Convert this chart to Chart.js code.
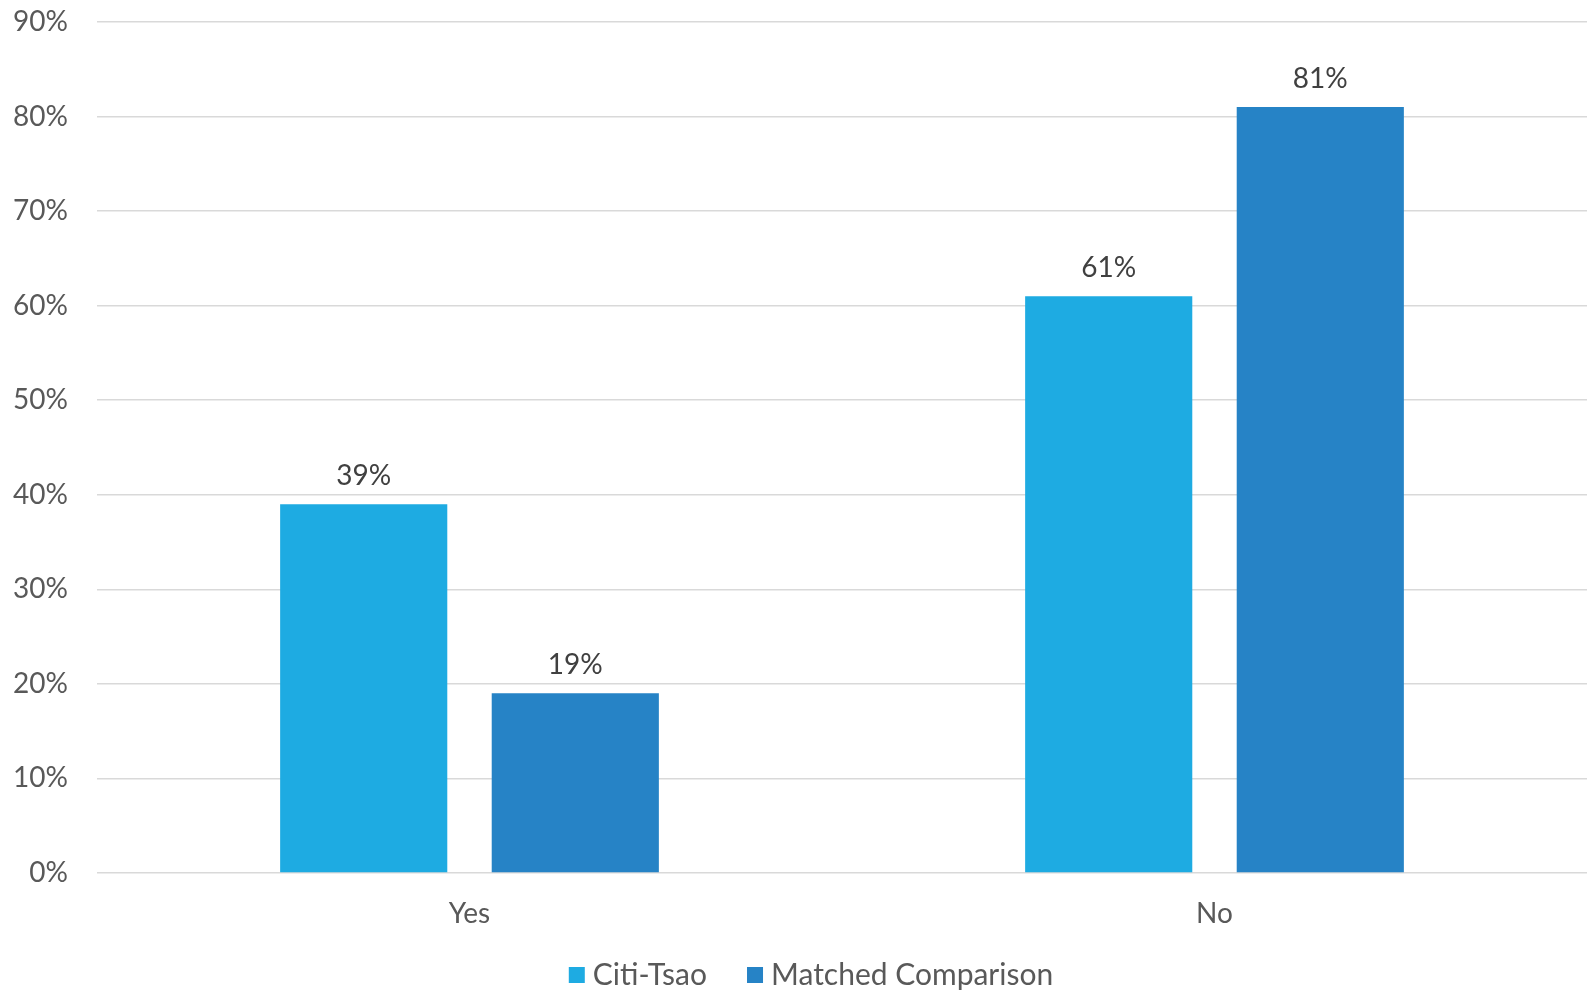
<!DOCTYPE html>
<html>
<head>
<meta charset="utf-8">
<script src="https://cdn.jsdelivr.net/npm/chart.js@4/dist/chart.umd.min.js"></script>
<style>
  html, body { margin: 0; padding: 0; background: #fff; }
  #wrap { width: 1593px; height: 991px; }
</style>
</head>
<body>
<div id="wrap"><canvas id="barChart"></canvas></div>
<script>
const categories = ['Yes', 'No'];
const citiTsao = [39, 61];
const matchedComparison = [19, 81];
const seriesNames = ['Citi-Tsao', 'Matched Comparison'];
const seriesColors = ['#1eabe2', '#2683c6'];

const fontFamily = "Lato, 'Open Sans', sans-serif";

// draws the value above each bar
const barLabels = {
    id: 'barLabels',
    afterDatasetsDraw(chart) {
        const ctx = chart.ctx;
        ctx.save();
        ctx.font = '28px ' + fontFamily;
        ctx.fillStyle = '#404040';
        ctx.textAlign = 'center';
        ctx.textBaseline = 'bottom';
        chart.data.datasets.forEach((ds, i) => {
            chart.getDatasetMeta(i).data.forEach((bar, j) => {
                ctx.fillText(ds.data[j] + '%', bar.x, bar.y - 14);
            });
        });
        ctx.restore();
    }
};

// legend under the axis, boxes close to their text like the original
const bottomLegend = {
    id: 'bottomLegend',
    afterDraw(chart) {
        const ctx = chart.ctx;
        const y = 975;
        ctx.save();
        ctx.font = '30px ' + fontFamily;
        ctx.textBaseline = 'middle';
        const items = chart.data.datasets.map(ds => ({
            text: ds.label,
            color: ds.backgroundColor,
            w: 16 + 8 + ctx.measureText(ds.label).width
        }));
        const gap = 40;
        const total = items.reduce((s, it) => s + it.w, 0) + gap * (items.length - 1);
        let x = 811 - total / 2;
        items.forEach(it => {
            ctx.fillStyle = it.color;
            ctx.fillRect(x, y - 8, 16, 16);
            ctx.fillStyle = '#595959';
            ctx.fillText(it.text, x + 24, y);
            x += it.w + gap;
        });
        ctx.restore();
    }
};

const ctx = document.getElementById('barChart').getContext('2d');
new Chart(ctx, {
    type: 'bar',
    data: {
        labels: categories,
        datasets: [{
            label: seriesNames[0],
            data: citiTsao,
            backgroundColor: seriesColors[0]
        }, {
            label: seriesNames[1],
            data: matchedComparison,
            backgroundColor: seriesColors[1]
        }]
    },
    options: {
        responsive: true,
        maintainAspectRatio: false,
        animation: false,
        categoryPercentage: 0.568,
        barPercentage: 0.79,
        layout: {
            padding: { left: 0, right: 6, top: 22, bottom: 63 }
        },
        scales: {
            x: {
                afterFit: function (scale) {
                    scale.height = 55;
                },
                grid: { display: false, drawTicks: false },
                border: { display: false },
                ticks: {
                    padding: 24,
                    color: '#595959',
                    font: { family: fontFamily, size: 28 }
                }
            },
            y: {
                min: 0,
                max: 90,
                afterFit: function (scale) {
                    scale.width = 97;
                    scale.paddingTop = 0;
                    scale.paddingBottom = 0;
                },
                grid: { color: '#d9d9d9', lineWidth: 1.5, drawTicks: false },
                border: { display: false },
                ticks: {
                    stepSize: 10,
                    padding: 29,
                    color: '#595959',
                    font: { family: fontFamily, size: 28 },
                    callback: function (value) {
                        return value + '%';
                    }
                }
            }
        },
        plugins: {
            legend: { display: false },
            tooltip: { enabled: false }
        }
    },
    plugins: [barLabels, bottomLegend]
});
</script>
</body>
</html>
